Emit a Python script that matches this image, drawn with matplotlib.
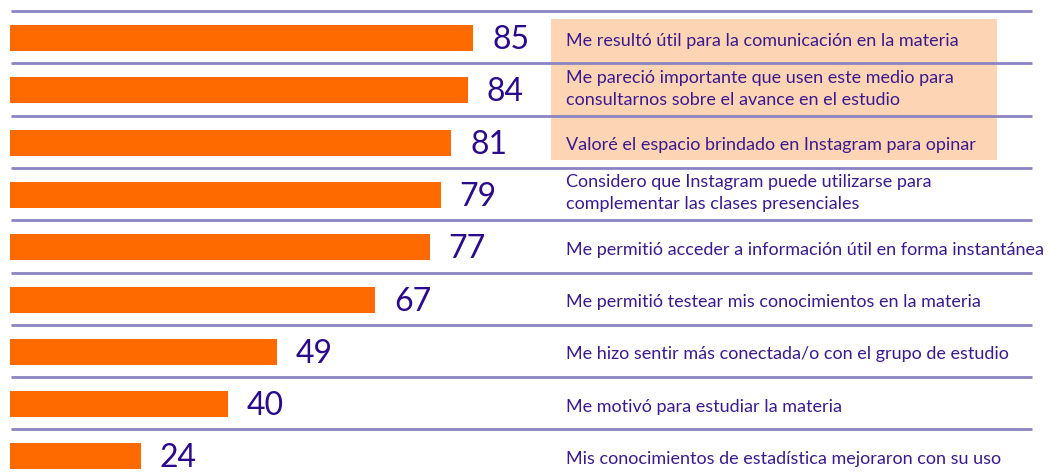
import matplotlib
matplotlib.use("Agg")
import matplotlib.pyplot as plt
from matplotlib.patches import Rectangle
import matplotlib.transforms as mtransforms

# ---- data ----
labels = [
    "Me resultó útil para la comunicación en la materia",
    "Me pareció importante que usen este medio para\nconsultarnos sobre el avance en el estudio",
    "Valoré el espacio brindado en Instagram para opinar",
    "Considero que Instagram puede utilizarse para\ncomplementar las clases presenciales",
    "Me permitió acceder a información útil en forma instantánea",
    "Me permitió testear mis conocimientos en la materia",
    "Me hizo sentir más conectada/o con el grupo de estudio",
    "Me motivó para estudiar la materia",
    "Mis conocimientos de estadística mejoraron con su uso",
]
values = [85, 84, 81, 79, 77, 67, 49, 40, 24]
highlighted = [0, 1, 2]

# ---- style ----
BAR = "#FF6A00"
NUM = "#2B0A8C"
TXT = "#3A1A8E"
LINE = "#8A84C2"
HILITE = "#FDD5B4"
FONT = "Lato"

W, H = 1052, 476
fig = plt.figure(figsize=(W / 100, H / 100), dpi=100)
ax = fig.add_axes([0, 0, 1, 1])
ax.set_axis_off()

px_per_unit = 5.45
x0 = 10.0
row_h = 52.3
y0 = 38.0
ax.set_xlim(-x0 / px_per_unit, (W - x0) / px_per_unit)
ax.set_ylim((H - y0) / row_h, -y0 / row_h)

n = len(values)
ypos = list(range(n))

blend = mtransforms.blended_transform_factory(ax.transAxes, ax.transData)

# highlight box behind first labels
top = min(highlighted) - (38 - 19) / row_h
bot = max(highlighted) + (160 - 38 - 2 * row_h) / row_h
ax.add_patch(Rectangle((551 / W, top), (997 - 551) / W, bot - top,
                       transform=blend, facecolor=HILITE, edgecolor="none", zorder=0))

# separator lines
line_off = (38 - 11) / row_h
for j in range(n):
    ax.plot([11 / W, 1032 / W], [j - line_off, j - line_off], transform=blend,
            color=LINE, lw=2.0, solid_capstyle="butt", zorder=1)

# bars
ax.barh(ypos, values, height=26 / row_h, left=0, color=BAR, zorder=2)

# value labels
for y, v in zip(ypos, values):
    ax.annotate(str(v), (v, y + 0.04), xytext=(13.7, 0), textcoords="offset points",
                ha="left", va="center", fontsize=23, color=NUM, family=FONT, zorder=3)

# category labels
for y, lab in zip(ypos, labels):
    dy = -0.03 if "\n" in lab else 0.05
    ax.text(566 / W, y + dy, lab, transform=blend, ha="left", va="center",
            fontsize=13.0, color=TXT, family=FONT, linespacing=1.45, zorder=3)

fig.savefig("out.png", dpi=100, facecolor="white")
